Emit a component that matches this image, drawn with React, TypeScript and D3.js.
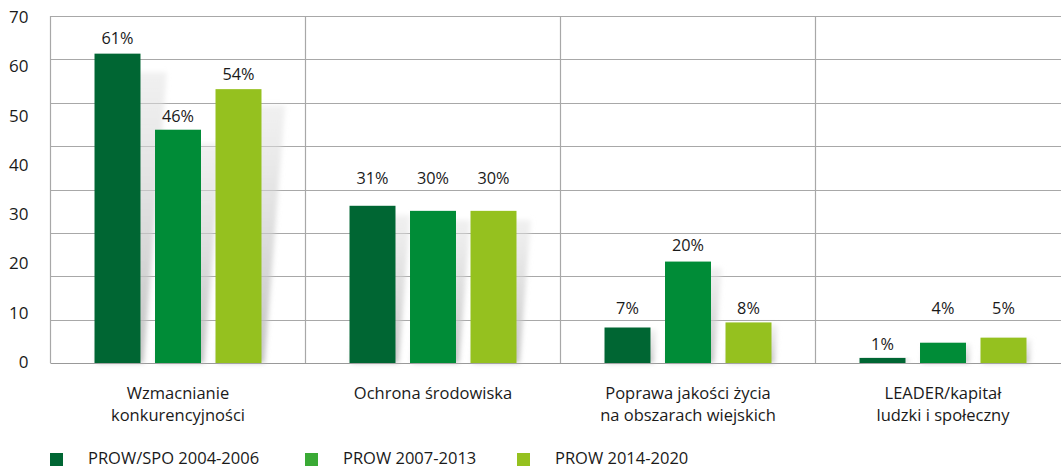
import React from "react";
import * as d3 from "d3";

const categories = [
  ["Wzmacnianie", "konkurencyjności"],
  ["Ochrona środowiska"],
  ["Poprawa jakości życia", "na obszarach wiejskich"],
  ["LEADER/kapitał", "ludzki i społeczny"],
];
const seriesNames = ["PROW/SPO 2004-2006", "PROW 2007-2013", "PROW 2014-2020"];
const barColors = ["#006633", "#008c37", "#95c11f"];
const legendColors = ["#006633", "#3aaa35", "#95c11f"];

const values2004 = [61, 31, 7, 1];
const values2007 = [46, 30, 20, 4];
const values2014 = [54, 30, 8, 5];
const seriesValues = [values2004, values2007, values2014];

// where each value label sits, in axis units
const labelAt2004 = [63, 35.3, 9.7, 2.6];
const labelAt2007 = [47.6, 35.3, 22.1, 9.7];
const labelAt2014 = [55.8, 35.3, 9.7, 9.7];
const labelAt = [labelAt2004, labelAt2007, labelAt2014];

const yTickLabels = [0, 10, 20, 30, 40, 50, 60, 70];
const gridSteps = d3.range(9);

const W = 1061;
const H = 467;
const FONT = "'Open Sans', 'Noto Sans', sans-serif";

export default function App() {
  const catKeys = categories.map((c) => c.join(" "));
  const x0 = d3.scaleBand<string>().domain(catKeys).range([50.5, 1070.5]).padding(0);
  const x1 = d3
    .scaleBand<number>()
    .domain([0, 1, 2])
    .range([0, x0.bandwidth()])
    .paddingInner(0.24)
    .paddingOuter(0.7275);
  const yBar = d3.scaleLinear().domain([0, 70]).range([363, 8]);
  const yLab = d3.scaleLinear().domain([0, 70]).range([362, 17]);
  const yGrid = d3.scaleLinear().domain([0, 8]).range([363, 16]);

  const bars: any[] = [];
  seriesValues.forEach((vals, si) => {
    vals.forEach((v, ci) => {
      const x = (x0(catKeys[ci]) as number) + (x1(si) as number);
      const w = x1.bandwidth();
      const top = yBar(v);
      const base = yBar(0);
      bars.push({ si, ci, v, x, w, top, base, lab: yBar(labelAt[si][ci]) });
    });
  });

  const gridColor = "#a8a8a8";

  return (
    <svg width={W} height={H} style={{ display: "block", position: "absolute", left: 0, top: 0 }}>
      <defs>
        <filter id="blur" x="-50%" y="-20%" width="200%" height="140%">
          <feGaussianBlur stdDeviation="2.5" />
        </filter>
        <linearGradient id="shadowGrad" x1="0" y1="1" x2="0" y2="0">
          <stop offset="0%" stopColor="#b8b8b8" stopOpacity="0.85" />
          <stop offset="100%" stopColor="#e2e2e2" stopOpacity="0.5" />
        </linearGradient>
      </defs>
      <rect x={0} y={0} width={W} height={H} fill="#fff" />
      {/* gridlines */}
      {gridSteps.map((g) => (
        <line
          key={"g" + g}
          x1={50.5}
          x2={W}
          y1={Math.round(yGrid(g)) + 0.5}
          y2={Math.round(yGrid(g)) + 0.5}
          stroke={g === 0 ? "#999" : gridColor}
          strokeWidth={1.2}
        />
      ))}
      {/* frame and separators */}
      {catKeys.map((k) => (
        <line
          key={"v" + k}
          x1={(x0(k) as number)}
          x2={(x0(k) as number)}
          y1={yGrid(8)}
          y2={yGrid(0)}
          stroke={gridColor}
          strokeWidth={1.2}
        />
      ))}
      {/* shadows */}
      {bars.map((b, i) => {
        const h = b.base - b.top;
        const shift = h * 0.075;
        const topY = b.top + h * 0.06;
        const pts = [
          [b.x + 2, b.base],
          [b.x + b.w + 3, b.base],
          [b.x + b.w + 3 + shift, topY],
          [b.x + 2 + shift, topY],
        ];
        return (
          <polygon
            key={"s" + i}
            points={pts.map((p) => p.join(",")).join(" ")}
            fill="url(#shadowGrad)"
            filter="url(#blur)"
          />
        );
      })}
      {/* bars */}
      {bars.map((b, i) => (
        <rect key={"b" + i} x={b.x} y={b.top} width={b.w} height={b.base - b.top} fill={barColors[b.si]} />
      ))}
      {/* value labels */}
      {bars.map((b, i) => (
        <text
          key={"l" + i}
          x={b.x + b.w / 2}
          y={b.lab}
          textAnchor="middle"
          fontFamily={FONT}
          fontSize={16.3}
          fill="#1a1a1a"
        >
          {b.v}%
        </text>
      ))}
      {/* y tick labels */}
      {yTickLabels.map((t) => (
        <text
          key={"t" + t}
          x={28.5}
          y={yLab(t)}
          dy="0.35em"
          textAnchor="end"
          fontFamily={FONT}
          fontSize={17}
          fill="#1a1a1a"
        >
          {t}
        </text>
      ))}
      {/* category labels */}
      {categories.map((lines, ci) => (
        <text
          key={"c" + ci}
          x={(x0(catKeys[ci]) as number) + x0.bandwidth() / 2}
          y={399}
          textAnchor="middle"
          fontFamily={FONT}
          fontSize={16.5}
          fill="#1a1a1a"
        >
          {lines.map((ln, li) => (
            <tspan key={li} x={(x0(catKeys[ci]) as number) + x0.bandwidth() / 2} dy={li === 0 ? 0 : 22}>
              {ln}
            </tspan>
          ))}
        </text>
      ))}
      {/* legend */}
      {seriesNames.map((s, si) => {
        const lx = [50, 305, 517][si];
        return (
          <g key={"lg" + si}>
            <rect x={lx} y={453} width={13} height={13} fill={legendColors[si]} />
            <text x={lx + 38} y={463.5} fontFamily={FONT} fontSize={16.5} fill="#1a1a1a">
              {s}
            </text>
          </g>
        );
      })}
    </svg>
  );
}
